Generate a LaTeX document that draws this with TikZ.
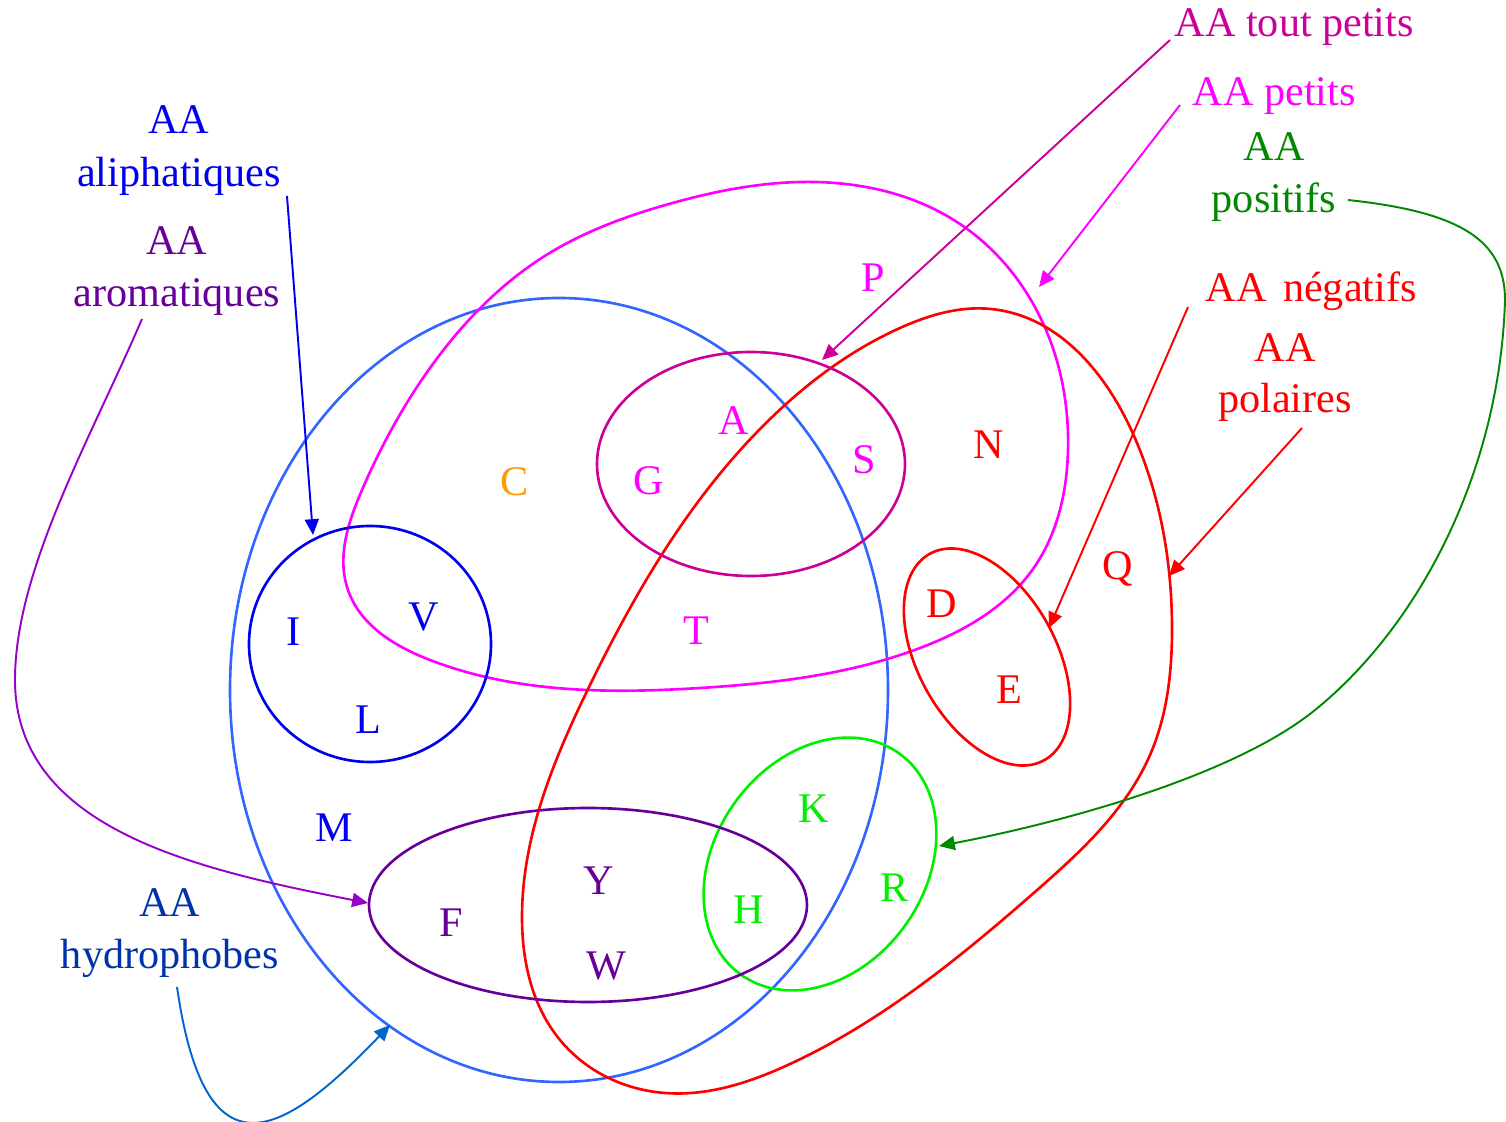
\documentclass[tikz,border=0pt]{standalone}
\usepackage{fontspec}
\setmainfont{Liberation Serif}
\usetikzlibrary{arrows.meta,hobby}
\definecolor{cHyd}{RGB}{51,102,255}
\definecolor{cPet}{RGB}{255,0,255}
\definecolor{cTP}{RGB}{204,0,153}
\definecolor{cAli}{RGB}{0,0,240}
\definecolor{cRed}{RGB}{255,0,0}
\definecolor{cGrn}{RGB}{0,240,0}
\definecolor{cAro}{RGB}{102,0,153}
\definecolor{cAroA}{RGB}{153,0,204}
\definecolor{cHydT}{RGB}{0,51,170}
\definecolor{cHydA}{RGB}{0,102,204}
\definecolor{cPos}{RGB}{0,136,0}
\definecolor{cOr}{RGB}{255,153,0}
\begin{document}
\begin{tikzpicture}[x=0.01cm,y=-0.01cm,
  lbl/.style={anchor=base,inner sep=0pt,font=\fontsize{12}{14}\selectfont},
  lblw/.style={lbl,anchor=base west},
  setline/.style={line width=0.75pt},
  arr/.style={line width=0.55pt,-{Triangle[length=4.5pt,width=4pt]}}]
\useasboundingbox (0,0) rectangle (1506,1122);

% ---- sets ----
\draw[setline,cHyd] (559,690) ellipse [x radius=329, y radius=392];
\draw[setline,cPet,use Hobby shortcut,closed=true]
  (815,182) .. (960,224) .. (1050,340) .. (1068,450) .. (1033,569) .. (920,648)
  .. (700,688) .. (430,660) .. (348,590) .. (362,490) .. (430,368) .. (548,254) .. (669,204);
\draw[setline,cRed,use Hobby shortcut,closed=true]
  (991,309) .. (1134,436) .. (1172,630) .. (1150,755) .. (1036,891) .. (790,1064)
  .. (665,1093) .. (560,1040) .. (522,918) .. (589,687) .. (768,421) .. (900,328);
\draw[setline,cTP] (751,464) ellipse [x radius=154, y radius=112];
\draw[setline,cAli] (370,644) ellipse [x radius=121, y radius=118];
\draw[setline,cRed,rotate around={-61:(987,657)}] (987,657) ellipse [x radius=118, y radius=69];
\draw[setline,cGrn,rotate around={54.5:(820,864)}] (820,864) ellipse [x radius=136, y radius=105];
\draw[setline,cAro] (588,905) ellipse [x radius=219, y radius=97];

% ---- element letters ----
\node[lbl,cPet] (P) at (873,292) {P};
\node[lbl,cPet] (A) at (734,435) {A};
\node[lbl,cPet] (G) at (649,495) {G};
\node[lbl,cPet] (S) at (864,474) {S};
\node[lbl,cPet] (T) at (696,645) {T};
\node[lbl,cOr] (C) at (515,496) {C};
\node[lbl,cRed] (N) at (989,459) {N};
\node[lbl,cRed] (D) at (942,618) {D};
\node[lbl,cRed] (E) at (1009,704) {E};
\node[lbl,cRed] (Q) at (1118,580) {Q};
\node[lbl,cAli] (I) at (294,646) {I};
\node[lbl,cAli] (V) at (424,631) {V};
\node[lbl,cAli] (L) at (368,734) {L};
\node[lbl,cAli] (M) at (334,841) {M};
\node[lbl,cAro] (F) at (451,936) {F};
\node[lbl,cAro] (Y) at (599,894) {Y};
\node[lbl,cAro] (W) at (606,979) {W};
\node[lbl,cGrn] (K) at (814,822) {K};
\node[lbl,cGrn] (H) at (749,923) {H};
\node[lbl,cGrn] (R) at (895,901) {R};

% ---- category labels ----
\node[lbl,cAli] (ali1) at (179,134) {AA};
\node[lbl,cAli] (ali2) at (179,187) {aliphatiques};
\node[lbl,cAro] (aro1) at (177,255) {AA};
\node[lbl,cAro] (aro2) at (177,307) {aromatiques};
\node[lbl,cHydT] (hyd1) at (170,916) {AA};
\node[lbl,cHydT] (hyd2) at (170,968) {hydrophobes};
\node[lblw,cTP] (tp) at (1174,37) {AA tout petits};
\node[lblw,cPet] (pet) at (1192,106) {AA petits};
\node[lbl,cPos] (pos1) at (1274,161) {AA};
\node[lbl,cPos] (pos2) at (1274,213) {positifs};
\node[lblw,cRed] (neg) at (1205,302) {AA\hspace{4.7pt}négatifs};
\node[lbl,cRed] (pol1) at (1285,362) {AA};
\node[lbl,cRed] (pol2) at (1285,413) {polaires};

% ---- connector ends ----
\coordinate (aliS) at (287,196);  \coordinate (aliE) at (313,535);
\coordinate (aroS) at (142,319);  \coordinate (aroE) at (368,903);
\coordinate (hydS) at (177,987);  \coordinate (hydE) at (390,1025);
\coordinate (tpS) at (1170,40);   \coordinate (tpE) at (822,360);
\coordinate (petS) at (1180,105); \coordinate (petE) at (1039,287);
\coordinate (posS) at (1348,200); \coordinate (posE) at (939,846);
\coordinate (negS) at (1188,307); \coordinate (negE) at (1049,628);
\coordinate (polS) at (1302,428); \coordinate (polE) at (1169,576);

% ---- connectors ----
\draw[arr,cAli] (aliS) -- (aliE);
\draw[arr,cAroA] (aroS) .. controls (90,440) and (15,570) .. (15,680)
  .. controls (15,830) and (200,870) .. (aroE);
\draw[arr,cHydA] (hydS) .. controls (205,1180) and (280,1140) .. (hydE);
\draw[arr,cTP] (tpS) -- (tpE);
\draw[arr,cPet] (petS) -- (petE);
\draw[arr,cPos] (posS) .. controls (1460,212) and (1505,240) .. (1505,300)
  .. controls (1500,470) and (1420,625) .. (1315,710)
  .. controls (1230,779) and (1050,825) .. (posE);
\draw[arr,cRed] (negS) -- (negE);
\draw[arr,cRed] (polS) -- (polE);
\end{tikzpicture}
\end{document}
